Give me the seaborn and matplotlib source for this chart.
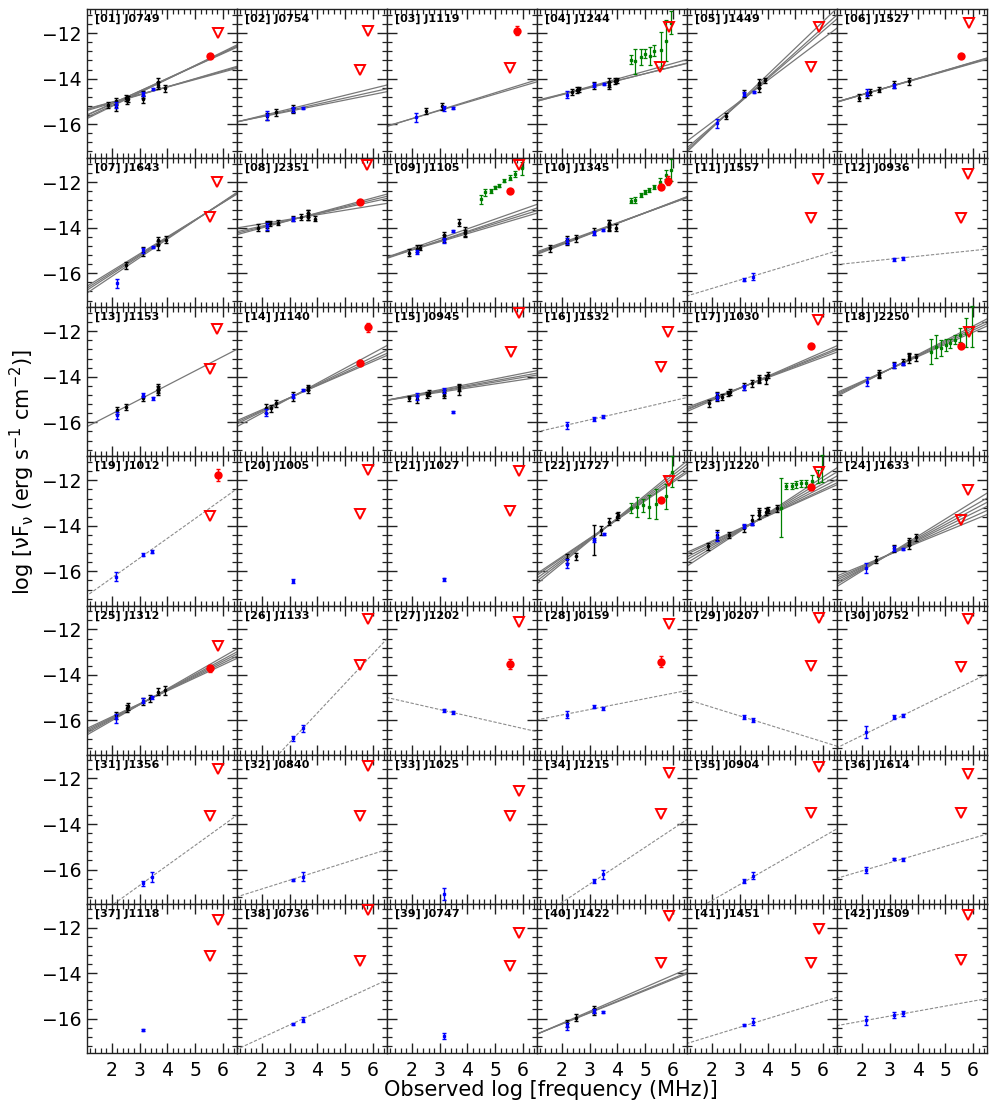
import numpy as np
import matplotlib
matplotlib.use("Agg")
import matplotlib.pyplot as plt
import seaborn as sns
from matplotlib.ticker import MultipleLocator

NAMES = ["J0749", "J0754", "J1119", "J1244", "J1449", "J1527",
         "J1643", "J2351", "J1105", "J1345", "J1557", "J0936",
         "J1153", "J1140", "J0945", "J1532", "J1030", "J2250",
         "J1012", "J1005", "J1027", "J1727", "J1220", "J1633",
         "J1312", "J1133", "J1202", "J0159", "J0207", "J0752",
         "J1356", "J0840", "J1025", "J1215", "J0904", "J1614",
         "J1118", "J0736", "J0747", "J1422", "J1451", "J1509"]

# black photometry: (log freq, log nuFnu, err)
BLACK = {
    1: [(1.86, -15.16, .15), (2.16, -15.0, .15), (2.16, -15.25, .15), (2.5, -14.85, .15), (2.54, -14.95, .15),
        (2.58, -14.9, .12), (3.14, -14.7, .15), (3.14, -14.9, .15), (3.68, -14.15, .2), (3.68, -14.3, .15),
        (3.92, -14.43, .15)],
    2: [(2.18, -15.65, .15), (2.52, -15.48, .15), (3.14, -15.3, .15), (3.14, -15.4, .1)],
    3: [(2.5, -15.42, .12), (3.1, -15.22, .15)],
    4: [(2.36, -14.58, .12), (2.54, -14.5, .12), (2.6, -14.47, .12), (3.16, -14.29, .15), (3.68, -14.15, .2),
        (3.68, -14.3, .15), (3.92, -14.1, .12), (4.0, -14.07, .12)],
    5: [(2.52, -15.64, .12), (3.14, -14.65, .15), (3.68, -14.2, .2), (3.68, -14.43, .15), (3.92, -14.07, .12)],
    6: [(1.88, -14.83, .15), (2.18, -14.72, .12), (2.3, -14.58, .12), (2.6, -14.48, .12), (3.14, -14.25, .15),
        (3.68, -14.12, .15)],
    7: [(2.5, -15.65, .15), (3.14, -15.06, .2), (3.68, -14.55, .15), (3.68, -14.77, .2), (3.94, -14.52, .15)],
    8: [(1.86, -13.99, .15), (2.17, -13.93, .2), (2.2, -13.84, .15), (2.3, -13.81, .12), (2.58, -13.78, .12),
        (3.14, -13.59, .12), (3.42, -13.52, .12), (3.68, -13.44, .2), (3.68, -13.37, .15), (3.68, -13.52, .15),
        (3.93, -13.6, .12)],
    9: [(1.88, -15.1, .15), (2.18, -14.93, .15), (2.3, -14.88, .12), (3.14, -14.47, .15), (3.14, -14.33, .15),
        (3.68, -13.78, .15), (3.92, -14.18, .2), (3.92, -14.25, .15)],
    10: [(1.56, -14.91, .15), (2.18, -14.52, .15), (2.18, -14.65, .12), (2.52, -14.47, .15), (3.14, -14.18, .15),
         (3.69, -13.88, .2), (3.69, -13.99, .15), (3.69, -13.8, .15), (3.94, -13.99, .15)],
    13: [(2.18, -15.47, .15), (2.5, -15.32, .12), (3.14, -14.95, .12), (3.68, -14.56, .15), (3.68, -14.44, .12),
         (3.68, -14.66, .12)],
    14: [(2.16, -15.38, .2), (2.34, -15.38, .15), (2.52, -15.16, .15), (3.14, -14.87, .2), (3.68, -14.58, .15),
         (3.68, -14.47, .12)],
    15: [(1.88, -14.95, .12), (2.18, -14.99, .15), (2.54, -14.8, .15), (2.6, -14.72, .12), (3.14, -14.8, .15),
         (3.14, -14.72, .12), (3.68, -14.58, .2), (3.68, -14.46, .15)],
    17: [(1.88, -15.17, .15), (2.18, -14.8, .15), (2.18, -14.95, .12), (2.36, -14.88, .12), (2.58, -14.73, .12),
         (2.64, -14.66, .12), (3.14, -14.41, .15), (3.44, -14.29, .15), (3.69, -14.07, .15), (3.69, -14.14, .15),
         (3.94, -14.11, .2), (4.01, -13.92, .15)],
    18: [(2.6, -13.85, .15), (2.6, -13.92, .12), (3.14, -13.48, .15), (3.47, -13.34, .12), (3.7, -13.19, .2),
         (3.7, -13.09, .15), (3.94, -13.15, .15)],
    22: [(2.18, -15.44, .2), (2.51, -15.33, .15), (3.14, -14.63, .65), (3.41, -14.19, .2), (3.68, -13.82, .15),
         (3.98, -13.6, .15), (4.02, -13.52, .12)],
    23: [(1.86, -14.9, .15), (2.2, -14.4, .2), (2.62, -14.4, .15), (3.14, -14.1, .15), (3.45, -13.74, .2),
         (3.71, -13.52, .2), (3.71, -13.37, .15), (3.96, -13.37, .15), (4.0, -13.3, .12), (4.33, -13.23, .15)],
    24: [(2.52, -15.49, .15), (3.14, -14.98, .15), (3.69, -14.83, .2), (3.69, -14.69, .15), (3.94, -14.5, .15)],
    25: [(2.16, -15.77, .15), (2.55, -15.47, .15), (2.58, -15.37, .15), (3.12, -15.18, .15), (3.37, -15.03, .15),
         (3.68, -14.74, .15), (3.93, -14.67, .2)],
    40: [(2.18, -16.21, .15), (2.51, -15.96, .15), (3.14, -15.71, .15), (3.14, -15.6, .15)],
}

BLUE = {
    1: [(2.16, -15.16, .15), (3.14, -14.68, .1), (3.47, -14.46, .05)],
    2: [(2.18, -15.6, .2), (3.14, -15.35, .1), (3.47, -15.3, .05)],
    3: [(2.14, -15.7, .2), (3.14, -15.3, .1), (3.47, -15.28, .05)],
    4: [(2.18, -14.7, .15), (3.16, -14.29, .08), (3.5, -14.22, .05)],
    5: [(2.18, -15.96, .2), (3.14, -14.68, .1), (3.5, -14.6, .05)],
    6: [(2.18, -14.62, .15), (3.14, -14.32, .1)],
    7: [(2.18, -16.45, .2), (3.14, -14.99, .1), (3.47, -14.84, .05)],
    8: [(2.18, -13.93, .15), (3.14, -13.62, .08)],
    9: [(2.18, -15.06, .1), (3.14, -14.55, .1), (3.47, -14.15, .05)],
    10: [(2.18, -14.58, .15), (3.14, -14.22, .08), (3.47, -14.1, .05)],
    11: [(3.14, -16.28, .06), (3.47, -16.16, .15)],
    12: [(3.14, -15.38, .06), (3.47, -15.34, .06)],
    13: [(2.18, -15.69, .15), (3.14, -14.8, .1), (3.47, -14.95, .05)],
    14: [(2.16, -15.58, .15), (3.14, -14.85, .1), (3.47, -14.58, .05)],
    15: [(2.18, -14.85, .15), (3.14, -14.6, .1), (3.47, -15.54, .05)],
    16: [(2.18, -16.13, .15), (3.14, -15.85, .1), (3.47, -15.76, .06)],
    17: [(2.18, -14.88, .15), (3.14, -14.47, .1)],
    18: [(2.18, -14.22, .2), (3.14, -13.5, .1), (3.47, -13.44, .05)],
    19: [(2.16, -16.24, .2), (3.14, -15.26, .06), (3.45, -15.14, .06)],
    20: [(3.14, -16.43, .08)],
    21: [(3.14, -16.35, .08)],
    22: [(2.18, -15.66, .2), (3.14, -14.63, .1), (3.52, -14.36, .05)],
    23: [(2.2, -14.47, .2), (3.14, -14.0, .1), (3.45, -13.91, .05)],
    24: [(2.16, -15.85, .2), (3.14, -15.0, .1), (3.48, -15.02, .05)],
    25: [(2.16, -15.91, .2), (3.12, -15.13, .1), (3.45, -14.99, .05)],
    26: [(3.14, -16.79, .12), (3.47, -16.35, .15)],
    27: [(3.14, -15.55, .06), (3.48, -15.65, .08)],
    28: [(2.18, -15.74, .15), (3.14, -15.4, .06), (3.48, -15.46, .06)],
    29: [(3.14, -15.84, .1), (3.46, -15.99, .08)],
    30: [(2.16, -16.5, .25), (3.14, -15.84, .1), (3.48, -15.77, .06)],
    31: [(3.14, -16.61, .1), (3.45, -16.32, .22)],
    32: [(3.14, -16.46, .06), (3.47, -16.32, .2)],
    33: [(3.14, -17.08, .25)],
    34: [(3.14, -16.5, .08), (3.48, -16.2, .2)],
    35: [(3.14, -16.5, .08), (3.46, -16.28, .15)],
    36: [(2.16, -16.03, .12), (3.14, -15.54, .06), (3.48, -15.55, .06)],
    37: [(3.14, -16.5, .05)],
    38: [(3.14, -16.24, .05), (3.47, -16.04, .1)],
    39: [(3.14, -16.77, .12)],
    40: [(2.18, -16.33, .15), (3.14, -15.66, .08), (3.48, -15.71, .05)],
    41: [(3.14, -16.28, .06), (3.46, -16.14, .15)],
    42: [(2.16, -16.07, .2), (3.14, -15.85, .12), (3.48, -15.77, .1)],
}

GREEN_X = {
    4: [4.48, 4.64, 4.85, 5.0, 5.17, 5.33, 5.56, 5.74, 5.93],
    9: [4.48, 4.64, 4.84, 5.0, 5.15, 5.33, 5.54, 5.73, 5.96],
    10: [4.48, 4.64, 4.84, 5.0, 5.15, 5.33, 5.54, 5.74, 5.93],
    18: [4.48, 4.67, 4.84, 5.02, 5.18, 5.36, 5.54, 5.75, 5.96],
    22: [4.49, 4.7, 4.91, 5.12, 5.37, 5.75, 5.96],
    23: [4.5, 4.67, 4.88, 5.03, 5.19, 5.4, 5.6, 5.81, 5.96],
}
GREEN_Y = {
    4: [-13.17, -13.23, -13.03, -12.91, -13.0, -12.77, -12.74, -12.33, -11.54],
    9: [-12.74, -12.45, -12.38, -12.23, -12.16, -11.93, -11.8, -11.64, -11.39],
    10: [-12.81, -12.78, -12.56, -12.42, -12.34, -12.2, -11.98, -11.68, -11.46],
    18: [-12.9, -12.68, -12.75, -12.6, -12.53, -12.38, -12.16, -12.06, -11.79],
    22: [-13.23, -13.16, -13.09, -13.16, -13.06, -12.69, -11.63],
    23: [-13.2, -12.25, -12.25, -12.18, -12.13, -12.13, -12.01, -11.83, -11.47],
}
GREEN_ERR = {
    4: [.2, .55, .35, .2, .4, .25, .8, .9, .5],
    9: [.2, .15, .1, .06, .06, .08, .1, .15, .3],
    10: [.1, .15, .1, .08, .08, .08, .15, .2, .5],
    18: [.55, .5, .35, .25, .2, .2, .3, .65, .9],
    22: [.22, .44, .29, .51, .66, .55, .68],
    23: [1.3, .15, .15, .15, .15, .15, .25, .3, .6],
}

# red detections (x, y, err)
RED = {
    1: [(5.54, -12.99, 0)], 3: [(5.79, -11.9, .2)], 6: [(5.56, -13.0, 0)], 8: [(5.54, -12.86, 0)],
    9: [(5.55, -12.4, 0)], 10: [(5.56, -12.2, 0), (5.82, -11.93, .2)],
    14: [(5.54, -13.38, .1), (5.82, -11.83, .2)], 17: [(5.56, -12.63, 0)], 18: [(5.56, -12.63, 0)],
    19: [(5.82, -11.77, .25)], 22: [(5.57, -12.87, 0)], 23: [(5.57, -12.28, 0)],
    25: [(5.55, -13.71, .15)], 27: [(5.55, -13.52, .2)], 28: [(5.57, -13.42, .25)],
}

# red upper limits (x, y)
UPPER = {
    1: [(5.81, -12.0)], 2: [(5.81, -11.9), (5.54, -13.6)], 3: [(5.54, -13.54)],
    4: [(5.84, -11.72), (5.54, -13.49)], 5: [(5.84, -11.72), (5.55, -13.49)], 6: [(5.84, -11.57)],
    7: [(5.8, -12.0), (5.54, -13.55)], 8: [(5.8, -11.24)], 9: [(5.84, -11.24)],
    11: [(5.83, -11.87), (5.55, -13.56)], 12: [(5.82, -11.64), (5.55, -13.56)],
    13: [(5.8, -11.91), (5.54, -13.64)], 15: [(5.84, -11.18), (5.56, -12.93)],
    16: [(5.83, -12.01), (5.55, -13.56)], 17: [(5.82, -11.49)], 18: [(5.85, -12.01)],
    19: [(5.55, -13.56)], 20: [(5.84, -11.55), (5.55, -13.5)], 21: [(5.84, -11.58), (5.55, -13.35)],
    22: [(5.84, -12.01)], 23: [(5.84, -11.65)], 24: [(5.82, -12.42), (5.55, -13.74)],
    25: [(5.82, -12.71)], 26: [(5.84, -11.54), (5.55, -13.58)], 27: [(5.84, -11.66)],
    28: [(5.84, -11.77)], 29: [(5.84, -11.51), (5.57, -13.61)], 30: [(5.82, -11.54), (5.55, -13.64)],
    31: [(5.82, -11.59), (5.55, -13.63)], 32: [(5.84, -11.43), (5.55, -13.63)],
    33: [(5.84, -12.53), (5.55, -13.63)], 34: [(5.84, -11.74), (5.57, -13.58)],
    35: [(5.84, -11.5), (5.57, -13.53)], 36: [(5.82, -11.81), (5.55, -13.51)],
    37: [(5.82, -11.66), (5.55, -13.25)], 38: [(5.84, -11.22), (5.55, -13.45)],
    39: [(5.84, -12.22), (5.55, -13.67)], 40: [(5.84, -11.49), (5.57, -13.54)],
    41: [(5.84, -12.06), (5.57, -13.54)], 42: [(5.82, -11.47), (5.55, -13.42)],
}

# power-law fits: (slope, log nuFnu at log freq = 3)
FITS = {
    1: [(0.6, -14.62), (0.58, -14.6), (0.56, -14.55), (0.55, -14.55), (0.36, -14.72), (0.343, -14.7), (0.33, -14.7)],
    2: [(0.3, -15.33), (0.27, -15.39), (0.245, -15.43)],
    3: [(0.38, -15.38), (0.36, -15.4)],
    4: [(0.34, -14.35), (0.31, -14.4), (0.30, -14.38)],
    5: [(1.17, -15.0), (1.1, -15.05), (1.05, -15.05), (0.92, -15.0)],
    6: [(0.36, -14.35), (0.355, -14.35), (0.35, -14.35), (0.345, -14.36)],
    7: [(0.82, -15.32), (0.79, -15.25), (0.77, -15.2), (0.75, -15.15)],
    8: [(0.33, -13.68), (0.3, -13.67), (0.27, -13.66), (0.2, -13.63)],
    9: [(0.43, -14.48), (0.41, -14.57), (0.38, -14.58), (0.36, -14.62)],
    10: [(0.47, -14.28), (0.46, -14.26), (0.45, -14.25), (0.44, -14.22)],
    11: [(0.367, -16.3)],
    12: [(0.126, -15.38)],
    13: [(0.63, -15.0)],
    14: [(0.66, -14.94), (0.6, -14.93), (0.56, -14.93), (0.53, -14.92)],
    15: [(0.24, -14.57), (0.22, -14.61), (0.205, -14.64), (0.185, -14.68)],
    16: [(0.28, -15.89)],
    17: [(0.535, -14.51), (0.5, -14.5), (0.48, -14.5), (0.45, -14.49)],
    18: [(0.63, -13.66), (0.6, -13.66), (0.57, -13.66), (0.54, -13.66)],
    19: [(0.87, -15.42)],
    22: [(1.0, -14.65), (0.95, -14.62), (0.9, -14.59), (0.85, -14.56), (0.82, -14.54)],
    23: [(0.8, -14.25), (0.74, -14.22), (0.68, -14.19), (0.63, -14.17), (0.58, -14.14), (0.55, -14.12)],
    24: [(0.76, -15.22), (0.7, -15.23), (0.65, -15.24), (0.6, -15.24), (0.55, -15.25), (0.5, -15.25)],
    25: [(0.7, -15.31), (0.66, -15.3), (0.63, -15.29), (0.6, -15.28), (0.57, -15.27)],
    26: [(1.3, -16.97)],
    27: [(-0.278, -15.52)],
    28: [(0.239, -15.52)],
    29: [(-0.38, -15.8)],
    30: [(0.6, -16.06)],
    31: [(0.88, -16.7)],
    32: [(0.385, -16.47)],
    34: [(0.81, -16.64)],
    35: [(0.7, -16.66)],
    36: [(0.36, -15.7)],
    38: [(0.565, -16.28)],
    40: [(0.53, -15.68), (0.5, -15.73), (0.49, -15.75)],
    41: [(0.375, -16.38)],
    42: [(0.22, -15.89)],
}
DASHED = {11, 12, 16, 19, 26, 27, 28, 29, 30, 31, 32, 34, 35, 36, 38, 41, 42}

XTICKS = [2, 3, 4, 5, 6]
YTICKS = [-12, -14, -16]
XLIM = (1.1, 6.5)
YLIM = (-17.5, -10.95)

sns.set_style("ticks")
plt.rcParams["font.family"] = ["DejaVu Sans"]
plt.rcParams["axes.linewidth"] = 1.0
plt.rcParams["axes.edgecolor"] = "#222222"
plt.rcParams["text.color"] = "black"
plt.rcParams["axes.labelcolor"] = "black"
plt.rcParams["xtick.color"] = "#222222"
plt.rcParams["ytick.color"] = "#222222"
plt.rcParams["xtick.labelcolor"] = "black"
plt.rcParams["ytick.labelcolor"] = "black"

fig, axes = plt.subplots(7, 6, figsize=(9.97, 11.14), dpi=100, sharex=True, sharey=True,
                         gridspec_kw=dict(hspace=0, wspace=0))
fig.subplots_adjust(left=0.087, right=0.990, top=0.9917, bottom=0.055)

xgrid = np.linspace(XLIM[0] - 0.2, XLIM[1] + 0.2, 40)

for i, ax in enumerate(axes.flat):
    p = i + 1
    dashed = p in DASHED
    for k, (slope, y3) in enumerate(FITS.get(p, [])):
        yy = y3 + slope * (xgrid - 3.0)
        if dashed:
            sns.lineplot(x=xgrid, y=yy, ax=ax, color="0.55", lw=0.8, estimator=None, sort=False,
                         dashes=False, linestyle=(0, (3, 1.5)), zorder=1)
        else:
            sns.lineplot(x=xgrid, y=yy, ax=ax, color="0.47", lw=0.9, estimator=None, sort=False, zorder=1)

    if p in GREEN_X:
        ax.errorbar(GREEN_X[p], GREEN_Y[p], yerr=GREEN_ERR[p], fmt="s", ms=1.6, color="green",
                    ecolor="green", elinewidth=0.9, capsize=1.6, capthick=0.9, zorder=3, clip_on=False)

    if p in BLACK:
        bx, by, be = zip(*BLACK[p])
        ax.errorbar(bx, by, yerr=be, fmt="o", ms=1.6, color="black", elinewidth=1.0,
                    capsize=1.6, capthick=1.0, zorder=4)
    if p in BLUE:
        ux, uy, ue = zip(*BLUE[p])
        ax.errorbar(ux, uy, yerr=ue, fmt="s", ms=2.0, color="blue", elinewidth=1.0,
                    capsize=1.4, capthick=1.0, zorder=5)

    if p in RED:
        rx, ry, re = zip(*RED[p])
        ax.errorbar(rx, ry, yerr=re, fmt="none", ecolor="red", elinewidth=1.0, capsize=1.6,
                    capthick=1.0, zorder=6)
        sns.scatterplot(x=list(rx), y=list(ry), ax=ax, color="red", s=36, edgecolor="red",
                        linewidth=0, zorder=7)

    if p in UPPER:
        tx, ty = zip(*UPPER[p])
        ax.plot(tx, ty, ls="none", marker="v", ms=6.5, mfc="none", mec="red", mew=1.4,
                zorder=8, clip_on=False)

    ax.text(0.055, 0.968, f"[{p:02d}] {NAMES[i]}", transform=ax.transAxes, fontsize=8,
            fontweight="bold", color="black", ha="left", va="top", zorder=10)

    ax.set_xlim(*XLIM)
    ax.set_ylim(*YLIM)
    ax.set_xticks(XTICKS)
    ax.set_yticks(YTICKS)
    ax.xaxis.set_minor_locator(MultipleLocator(0.2))
    ax.yaxis.set_minor_locator(MultipleLocator(0.4))
    ax.tick_params(which="both", direction="in", top=True, right=True, color="#222222")
    ax.tick_params(which="major", length=7, width=1.0, labelsize=13.5, labelcolor="black")
    ax.tick_params(axis="x", which="major", pad=6)
    ax.tick_params(axis="y", which="major", pad=4)
    ax.tick_params(which="minor", length=3.5, width=0.9)
    ax.set_xlabel("")
    ax.set_ylabel("")
    if ax.get_legend() is not None:
        ax.get_legend().remove()

fig.text(0.553, 0.0215, "Observed log [frequency (MHz)]", ha="center", va="center", fontsize=15,
         color="black")
fig.text(0.022, 0.576, r"log [νF$_{\mathregular{ν}}$ (erg s$^{\mathregular{-1}}$ cm$^{\mathregular{-2}}$)]",
         rotation=90, ha="center", va="center", fontsize=15, color="black")

fig.savefig("out.png", dpi=100)
